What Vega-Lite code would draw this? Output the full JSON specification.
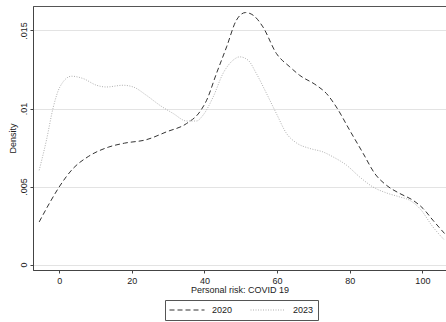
{
  "$schema": "https://vega.github.io/schema/vega-lite/v6.json",
  "width": 413,
  "height": 264,
  "autosize": {"type": "none"},
  "padding": {"left": 33, "top": 6, "right": 0, "bottom": 52},
  "background": "white",
  "config": {
    "font": "Liberation Sans",
    "view": {"stroke": "#555555", "strokeWidth": 1}
  },
  "datasets": {
    "d": [
      {"year": "2020", "x": -5.5, "y": 0.00273},
      {"year": "2020", "x": -2.5, "y": 0.0040},
      {"year": "2020", "x": 0, "y": 0.00497},
      {"year": "2020", "x": 3.85, "y": 0.00616},
      {"year": "2020", "x": 8, "y": 0.00692},
      {"year": "2020", "x": 13.5, "y": 0.00752},
      {"year": "2020", "x": 18, "y": 0.00778},
      {"year": "2020", "x": 24, "y": 0.0080},
      {"year": "2020", "x": 29.5, "y": 0.0085},
      {"year": "2020", "x": 35.1, "y": 0.00904},
      {"year": "2020", "x": 38.7, "y": 0.00978},
      {"year": "2020", "x": 40.6, "y": 0.01053},
      {"year": "2020", "x": 43.3, "y": 0.01224},
      {"year": "2020", "x": 46.1, "y": 0.01395},
      {"year": "2020", "x": 48.8, "y": 0.01566},
      {"year": "2020", "x": 51.3, "y": 0.01615},
      {"year": "2020", "x": 53.4, "y": 0.01598},
      {"year": "2020", "x": 56.1, "y": 0.01523},
      {"year": "2020", "x": 59.8, "y": 0.01353},
      {"year": "2020", "x": 63.5, "y": 0.01267},
      {"year": "2020", "x": 66.2, "y": 0.01213},
      {"year": "2020", "x": 70.8, "y": 0.01149},
      {"year": "2020", "x": 73.6, "y": 0.01096},
      {"year": "2020", "x": 76.3, "y": 0.0101},
      {"year": "2020", "x": 80, "y": 0.0086},
      {"year": "2020", "x": 83.7, "y": 0.00712},
      {"year": "2020", "x": 86.9, "y": 0.00583},
      {"year": "2020", "x": 90.1, "y": 0.00508},
      {"year": "2020", "x": 93.8, "y": 0.00455},
      {"year": "2020", "x": 97.4, "y": 0.00412},
      {"year": "2020", "x": 100.2, "y": 0.00359},
      {"year": "2020", "x": 102.9, "y": 0.00284},
      {"year": "2020", "x": 106.1, "y": 0.00199},
      {"year": "2023", "x": -5.5, "y": 0.00604},
      {"year": "2023", "x": -3.5, "y": 0.00797},
      {"year": "2023", "x": -1.6, "y": 0.0101},
      {"year": "2023", "x": 0.2, "y": 0.01138},
      {"year": "2023", "x": 3.4, "y": 0.01207},
      {"year": "2023", "x": 6.6, "y": 0.01192},
      {"year": "2023", "x": 10.3, "y": 0.01149},
      {"year": "2023", "x": 13.0, "y": 0.01138},
      {"year": "2023", "x": 17.6, "y": 0.01149},
      {"year": "2023", "x": 20.4, "y": 0.01138},
      {"year": "2023", "x": 24, "y": 0.01085},
      {"year": "2023", "x": 27.7, "y": 0.01021},
      {"year": "2023", "x": 31.4, "y": 0.00968},
      {"year": "2023", "x": 35.1, "y": 0.0092},
      {"year": "2023", "x": 37.8, "y": 0.0092},
      {"year": "2023", "x": 39.6, "y": 0.00957},
      {"year": "2023", "x": 42.4, "y": 0.01074},
      {"year": "2023", "x": 45.1, "y": 0.01224},
      {"year": "2023", "x": 47.9, "y": 0.0131},
      {"year": "2023", "x": 49.7, "y": 0.01331},
      {"year": "2023", "x": 52, "y": 0.0131},
      {"year": "2023", "x": 54.3, "y": 0.01224},
      {"year": "2023", "x": 57.1, "y": 0.01096},
      {"year": "2023", "x": 59.8, "y": 0.00968},
      {"year": "2023", "x": 62.6, "y": 0.0084},
      {"year": "2023", "x": 65.3, "y": 0.0078},
      {"year": "2023", "x": 69, "y": 0.00744},
      {"year": "2023", "x": 72.6, "y": 0.00722},
      {"year": "2023", "x": 75.4, "y": 0.0069},
      {"year": "2023", "x": 79.1, "y": 0.00637},
      {"year": "2023", "x": 82.7, "y": 0.00562},
      {"year": "2023", "x": 86.4, "y": 0.00497},
      {"year": "2023", "x": 90.1, "y": 0.00459},
      {"year": "2023", "x": 93.8, "y": 0.00433},
      {"year": "2023", "x": 96.5, "y": 0.00412},
      {"year": "2023", "x": 99.3, "y": 0.00359},
      {"year": "2023", "x": 102.9, "y": 0.00241},
      {"year": "2023", "x": 106.1, "y": 0.00156}
    ]
  },
  "data": {"name": "d"},
  "mark": {"type": "line", "interpolate": "monotone", "strokeWidth": 1, "clip": true},
  "encoding": {
    "x": {
      "field": "x", "type": "quantitative",
      "scale": {"domain": [-7.2, 106.5], "nice": false, "zero": false},
      "axis": {
        "values": [0, 20, 40, 60, 80, 100],
        "title": "Personal risk: COVID 19",
        "grid": false,
        "domainColor": "#444444",
        "tickColor": "#444444",
        "tickSize": 3,
        "labelFontSize": 9,
        "labelColor": "#222222",
        "labelPadding": 3,
        "titleFontSize": 9,
        "titleFontWeight": "normal",
        "titleColor": "#222222",
        "titlePadding": 0
      }
    },
    "y": {
      "field": "y", "type": "quantitative",
      "scale": {"domain": [-0.00035, 0.01657], "nice": false, "zero": false},
      "axis": {
        "values": [0, 0.005, 0.01, 0.015],
        "labelExpr": "datum.value == 0 ? '0' : replace(format(datum.value, '.3~f'), '0.', '.')",
        "title": "Density",
        "grid": true,
        "gridColor": "#e3e3e3",
        "gridWidth": 1,
        "domainColor": "#444444",
        "tickColor": "#444444",
        "tickSize": 3,
        "labelAngle": -90,
        "labelAlign": "center",
        "labelBaseline": "bottom",
        "labelFontSize": 9,
        "labelColor": "#222222",
        "labelPadding": 2,
        "titleFontSize": 9,
        "titleFontWeight": "normal",
        "titleColor": "#222222",
        "titlePadding": 2
      }
    },
    "color": {
      "field": "year", "type": "nominal",
      "scale": {"domain": ["2020", "2023"], "range": ["#333333", "#b0b0b0"]},
      "legend": {
        "orient": "none",
        "legendX": 132,
        "legendY": 294,
        "direction": "horizontal",
        "title": null,
        "symbolType": "stroke",
        "symbolSize": 1225,
        "clipHeight": 12,
        "symbolStrokeWidth": 1,
        "labelFontSize": 9,
        "labelColor": "#222222",
        "labelOffset": 7,
        "columnPadding": 17,
        "padding": 4,
        "strokeColor": "#555555",
        "fillColor": "white"
      }
    },
    "strokeDash": {
      "field": "year", "type": "nominal",
      "scale": {"domain": ["2020", "2023"], "range": [[5, 3], [1, 1.5]]},
      "legend": null
    }
  }
}
